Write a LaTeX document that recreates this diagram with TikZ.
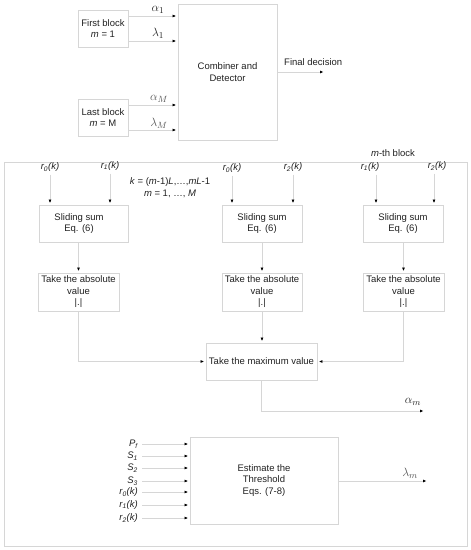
\documentclass[tikz,border=0pt]{standalone}
\usepackage{fontspec}
\setmainfont{Liberation Sans}
\usetikzlibrary{arrows.meta}
\definecolor{linegray}{HTML}{D6D6D6}
\definecolor{txt}{HTML}{222222}
\definecolor{mgray}{HTML}{555555}
\begin{document}
\begin{tikzpicture}[x=1pt,y=-1pt,
  every node/.style={font=\fontsize{9.5}{11.5}\selectfont, text=txt, inner sep=0pt},
  boxst/.style={draw=linegray, line width=0.8pt, align=center},
  arr/.style={draw=linegray, line width=0.8pt, -{Latex[length=3.5pt,width=3pt,color=black]}, shorten >=1.5pt},
  mlab/.style={font=\fontsize{13}{15}\selectfont},
  toplab/.style={font=\fontsize{9.5}{11}\selectfont\itshape},
  inlab/.style={anchor=east, font=\fontsize{9.5}{11}\selectfont\itshape}]
\useasboundingbox (0,0) rectangle (471,550);
\fill[white] (0,0) rectangle (471,550);

% ---------- top section ----------
\node[boxst, minimum width=50, minimum height=37] (first) at (103,28.5) {First block\\\textit{m} = 1};
\node[boxst, minimum width=50, minimum height=37] (last) at (103,117.5) {Last block\\\textit{m} = M};
\node[boxst, minimum width=99, minimum height=136] (comb) at (227.5,72) {Combiner and\\Detector};

\coordinate (ya1) at (0,16);
\coordinate (yl1) at (0,41);
\coordinate (yaM) at (0,105);
\coordinate (ylM) at (0,130);
\draw[arr] (first.east |- ya1) -- (comb.west |- ya1);
\draw[arr] (first.east |- yl1) -- (comb.west |- yl1);
\draw[arr] (last.east |- yaM) -- (comb.west |- yaM);
\draw[arr] (last.east |- ylM) -- (comb.west |- ylM);
\node[mlab] (la1) at (158,10) {$\alpha_1$};
\node[mlab] (ll1) at (158,33) {$\lambda_1$};
\node[mlab, text=mgray] (laM) at (159,99) {$\alpha_M$};
\node[mlab, text=mgray] (llM) at (159,123) {$\lambda_M$};

\coordinate (fd) at (325,72);
\draw[arr] (comb.east) -- (fd);
\node[anchor=west] (fdl) at (284,62) {Final decision};

% ---------- m-th block frame ----------
\node[boxst, minimum width=463, minimum height=384] (frame) at (235.5,354) {};
\node (mth) at (393,153) {\textit{m}-th block};

\node[align=center] (kdef) at (170,187.5) {\textit{k} = (\textit{m}-1)\textit{L},\dots,\textit{mL}-1\\\textit{m} = 1, \dots, \textit{M}};

% sliding sum boxes
\node[boxst, minimum width=89, minimum height=37] (ss1) at (83.5,223.5) {};
\node[align=center] (ss1t) at (79,223.5) {Sliding sum\\Eq. (6)};
\node[boxst, minimum width=80, minimum height=37] (ss2) at (262,223.5) {Sliding sum\\Eq. (6)};
\node[boxst, minimum width=80, minimum height=37] (ss3) at (403,223.5) {Sliding sum\\Eq. (6)};

% inputs
\node[toplab] (i1) at (50,167) {r\textsubscript{0}(k)};
\node[toplab] (i2) at (110,166) {r\textsubscript{1}(k)};
\node[toplab] (i3) at (232,168) {r\textsubscript{0}(k)};
\node[toplab] (i4) at (293,167) {r\textsubscript{2}(k)};
\node[toplab] (i5) at (370,167) {r\textsubscript{1}(k)};
\node[toplab] (i6) at (437,166) {r\textsubscript{2}(k)};
\draw[arr] ([yshift=-3pt]i1.south) -- (i1.south |- ss1.north);
\draw[arr] ([yshift=-3pt]i2.south) -- (i2.south |- ss1.north);
\draw[arr] ([yshift=-3pt]i3.south) -- (i3.south |- ss2.north);
\draw[arr] ([yshift=-3pt]i4.south) -- (i4.south |- ss2.north);
\coordinate (x5) at (376,0);
\coordinate (x6) at (434,0);
\draw[arr] (x5 |- i5.south) ++(0,3) -- (x5 |- ss3.north);
\draw[arr] (x6 |- i6.south) ++(0,3) -- (x6 |- ss3.north);

% absolute value boxes
\node[boxst, minimum width=81, minimum height=38] (ab1) at (78.5,292) {Take the absolute\\value\\|.|};
\node[boxst, minimum width=80, minimum height=38] (ab2) at (262,292) {Take the absolute\\value\\|.|};
\node[boxst, minimum width=81, minimum height=38] (ab3) at (403.5,292) {Take the absolute\\value\\|.|};
\draw[arr] (ss1.south -| ab1.north) -- (ab1.north);
\draw[arr] (ss2.south) -- (ab2.north);
\draw[arr] (ss3.south -| ab3.north) -- (ab3.north);

% maximum box
\node[boxst, minimum width=111, minimum height=37] (mx) at (261.5,361.5) {Take the maximum value};
\draw[arr] (ab1.south) |- (mx.west);
\draw[arr] (ab3.south) |- (mx.east);
\draw[arr] (ab2.south) -- (ab2.south |- mx.north);
\coordinate (aout) at (425,411);
\draw[arr] (mx.south) |- (aout);
\node[mlab] (lam) at (413,402) {$\alpha_m$};

% threshold box
\node[boxst, minimum width=148, minimum height=87] (est) at (264,480.5) {Estimate the\\Threshold\\Eqs. (7-8)};
\node[inlab] (p1) at (138,444) {P\textsubscript{f}};
\node[inlab] (p2) at (138,456) {S\textsubscript{1}};
\node[inlab] (p3) at (138,468) {S\textsubscript{2}};
\node[inlab] (p4) at (138,481) {S\textsubscript{3}};
\node[inlab] (p5) at (138,492) {r\textsubscript{0}(k)};
\node[inlab] (p6) at (138,505) {r\textsubscript{1}(k)};
\node[inlab] (p7) at (138,518) {r\textsubscript{2}(k)};
\foreach \p in {p1,p2,p3,p4,p5,p6,p7}{
  \draw[arr] ([xshift=4pt]\p.east) -- (\p.east -| est.west);
}
\coordinate (lout) at (428,481);
\draw[arr] (est.east |- lout) -- (lout);
\node[mlab, text=mgray] (llm) at (410,473) {$\lambda_m$};
\end{tikzpicture}
\end{document}
